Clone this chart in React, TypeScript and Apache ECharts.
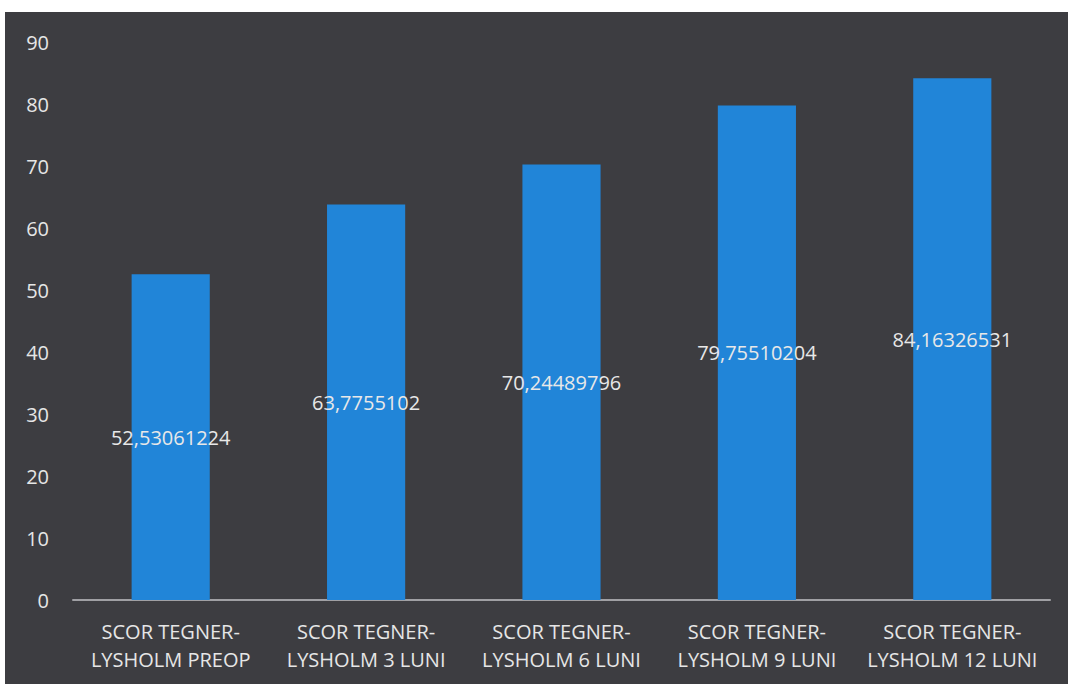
import React, { useEffect, useRef } from "react";
import * as echarts from "echarts";

const categories = [
  "SCOR TEGNER-\nLYSHOLM PREOP",
  "SCOR TEGNER-\nLYSHOLM 3 LUNI",
  "SCOR TEGNER-\nLYSHOLM 6 LUNI",
  "SCOR TEGNER-\nLYSHOLM 9 LUNI",
  "SCOR TEGNER-\nLYSHOLM 12 LUNI",
];
const values = [52.53061224, 63.7755102, 70.24489796, 79.75510204, 84.16326531];
const valueLabels = ["52,53061224", "63,7755102", "70,24489796", "79,75510204", "84,16326531"];

export default function App() {
  const ref = useRef<HTMLDivElement>(null);
  useEffect(() => {
    if (!ref.current) return;
    const chart = echarts.init(ref.current, null, { renderer: "svg" });
    chart.setOption({
      animation: false,
      backgroundColor: "#3d3d41",
      textStyle: { fontFamily: "Open Sans" },
      grid: { left: 68, right: 18, top: 30, bottom: 84, containLabel: false },
      xAxis: {
        type: "category",
        data: categories,
        axisLine: { lineStyle: { color: "#a0a0a4", width: 2 } },
        axisTick: { show: false },
        axisLabel: {
          color: "#e6e6e6",
          fontSize: 20,
          lineHeight: 28,
          margin: 17,
          interval: 0,
        },
      },
      yAxis: {
        type: "value",
        min: 0,
        max: 90,
        interval: 10,
        splitLine: { show: false },
        axisLine: { show: false },
        axisTick: { show: false },
        axisLabel: { color: "#e6e6e6", fontSize: 20, margin: 24 },
      },
      series: [
        {
          type: "bar",
          data: values,
          barWidth: "40%",
          itemStyle: { color: "#2185d8" },
          label: {
            show: true,
            position: "inside",
            color: "#e8e8e8",
            fontSize: 20,
            formatter: (p: any) => valueLabels[p.dataIndex],
          },
        },
      ],
    });
    return () => chart.dispose();
  }, []);
  return (
    <div style={{ position: "fixed", left: 0, top: 0, width: 1068, height: 684, background: "#fff" }}>
      <div ref={ref} style={{ position: "absolute", left: 5, top: 12, width: 1063, height: 672 }} />
    </div>
  );
}
